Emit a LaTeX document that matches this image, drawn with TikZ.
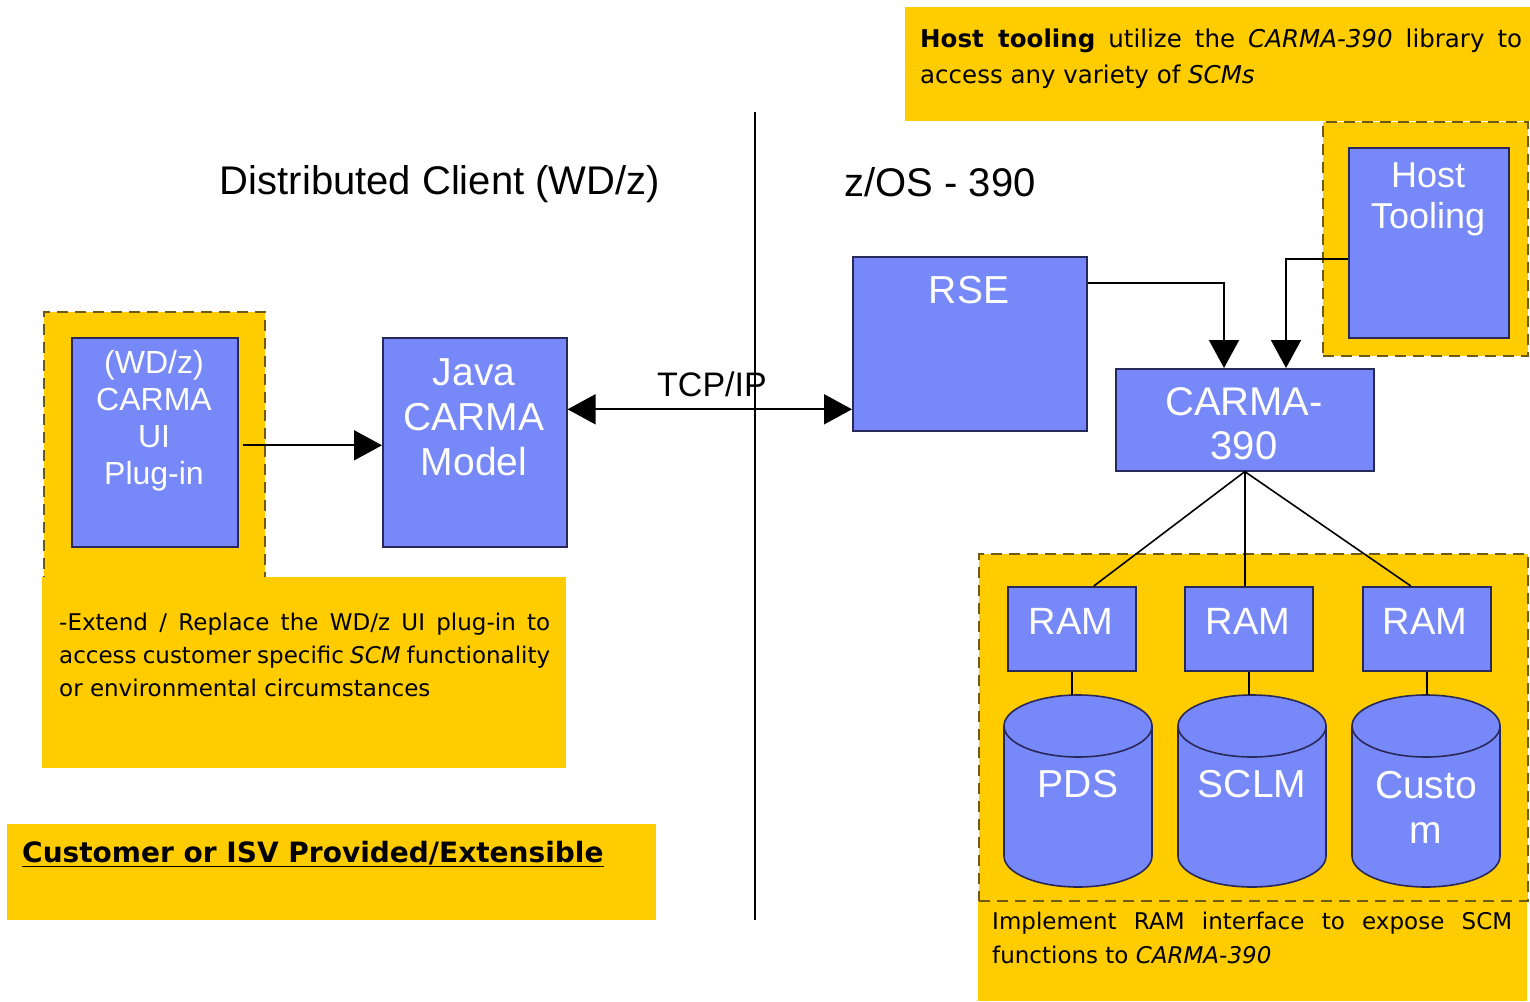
\documentclass[tikz,border=0pt]{standalone}
\usepackage{fontspec}
\setmainfont{Liberation Sans}
\newfontfamily\comicf{DejaVu Sans}
\usetikzlibrary{arrows.meta,calc}
\definecolor{boxblue}{RGB}{119,136,248}
\definecolor{boxedge}{RGB}{40,40,90}
\definecolor{noteyellow}{RGB}{255,204,0}
\definecolor{dashcol}{RGB}{110,90,20}
\newcommand\drawcyl[4]{%
  \filldraw[cylbody] (#2,#4) ellipse [x radius=74, y radius=31];
  \fill[boxblue] (#2-74,#3) rectangle (#2+74,#4);
  \draw[cylline] (#2-74,#3) -- (#2-74,#4) (#2+74,#3) -- (#2+74,#4);
  \filldraw[cylbody] (#2,#3) ellipse [x radius=74, y radius=31];
  \coordinate (#1) at (#2,#3-31);
}
\begin{document}
\begin{tikzpicture}[x=1pt,y=-1pt,
  bluebox/.style={draw=boxedge, fill=boxblue, line width=1.6pt, anchor=north west, inner sep=0pt},
  dashzone/.style={draw=dashcol, fill=noteyellow, line width=2.2pt, dash pattern=on 11pt off 7pt, anchor=north west, inner sep=0pt},
  notezone/.style={fill=noteyellow, anchor=north west, inner sep=0pt},
  wtext/.style={text=white, align=center, inner sep=0pt},
  cylbody/.style={draw=boxedge, fill=boxblue, line width=1.6pt},
  cylline/.style={draw=boxedge, line width=1.6pt},
  link/.style={line width=1.6pt},
  arr/.style={line width=1.8pt, -{Triangle[length=28pt,width=30pt]}},
  biarr/.style={line width=1.8pt, {Triangle[length=28pt,width=30pt]}-{Triangle[length=28pt,width=30pt]}},
  notetext/.style={anchor=north west, inner sep=0pt, align=justify},
  header/.style={inner sep=0pt, font=\fontsize{40}{46}\selectfont}
]
\useasboundingbox (0,0) rectangle (1530,1001);
\fill[white] (0,0) rectangle (1530,1001);

% yellow zones
\node[notezone, minimum width=625pt, minimum height=114pt] (topnote) at (905,7) {};
\node[dashzone, minimum width=205pt, minimum height=234pt] (hostzone) at (1322,121) {};
\node[dashzone, minimum width=221pt, minimum height=266pt] (pluginzone) at (43,311) {};
\node[notezone, minimum width=524pt, minimum height=191pt] (leftnote) at (42,577) {};
\node[notezone, minimum width=649pt, minimum height=96pt] (isvnote) at (7,824) {};
\node[notezone, minimum width=549pt, minimum height=101pt] (ramnote) at (978,900) {};
\node[dashzone, minimum width=549pt, minimum height=347pt] (ramzone) at (978,553) {};

% divider
\coordinate (vtop) at (755,112);
\coordinate (vbot) at (755,920);
\draw[line width=1.6pt] (vtop) -- (vbot);

% headers
\node[header] (hdrleft) at (440,184) {Distributed Client (WD/z)};
\node[header] (hdrright) at (940,182) {z/OS - 390};

% blue boxes
\node[bluebox, minimum width=166pt, minimum height=209pt] (plugin) at (71,337) {};
\node[bluebox, minimum width=184pt, minimum height=209pt] (java) at (382,337) {};
\node[bluebox, minimum width=234pt, minimum height=174pt] (rse) at (852,256) {};
\node[bluebox, minimum width=258pt, minimum height=102pt] (carma) at (1115,368) {};
\node[bluebox, minimum width=160pt, minimum height=190pt] (host) at (1348,147) {};
\node[bluebox, minimum width=128pt, minimum height=84pt] (ram1) at (1007,586) {};
\node[bluebox, minimum width=128pt, minimum height=84pt] (ram2) at (1184,586) {};
\node[bluebox, minimum width=128pt, minimum height=84pt] (ram3) at (1362,586) {};

\drawcyl{pds}{1078}{726}{856}
\drawcyl{sclm}{1252}{726}{856}
\drawcyl{cust}{1426}{726}{856}

% box texts
\node[wtext, font=\fontsize{32}{37}\selectfont] (plugintext) at (154,421) {(WD/z)\\CARMA\\UI\\Plug-in};
\node[wtext, font=\fontsize{39}{45}\selectfont] (javatext) at (474,417) {Java\\CARMA\\Model};
\node[wtext, font=\fontsize{39}{45}\selectfont] (rsetext) at (969,290) {RSE};
\node[wtext, font=\fontsize{40}{44}\selectfont] (carmatext) at (1244,424) {CARMA-\\390};
\node[wtext, font=\fontsize{36}{41}\selectfont] (hosttext) at (1428,199) {Host\\Tooling};
\node[wtext, font=\fontsize{38}{44}\selectfont] (ram1text) at (1071,621) {RAM};
\node[wtext, font=\fontsize{38}{44}\selectfont] (ram2text) at (1248,621) {RAM};
\node[wtext, font=\fontsize{38}{44}\selectfont] (ram3text) at (1425,621) {RAM};
\node[wtext, font=\fontsize{39}{45}\selectfont] (pdstext) at (1078,784) {PDS};
\node[wtext, font=\fontsize{39}{45}\selectfont] (sclmtext) at (1252,784) {SCLM};
\node[wtext, font=\fontsize{39}{45}\selectfont] (custtext) at (1426,807) {Custo\\m};

% connectors
\draw[arr] ($(plugin.east)+(4,3)$) -- ($(java.west)+(0,3)$);
\draw[biarr] ($(java.east)+(0,-33)$) coordinate (tcpl) -- (tcpl -| rse.west);
\node[inner sep=0pt, font=\fontsize{34}{40}\selectfont] (tcplabel) at (712,384) {TCP/IP};
\draw[arr] ($(rse.east)+(0,-61)$) -| ($(carma.north west)+(109,0)$);
\draw[arr] ($(host.west)+(0,16)$) -| ($(carma.north west)+(171,0)$);
\draw[link] (carma.south) -- ($(ram1.north)+(22,0)$);
\draw[link] (carma.south) -- (carma.south |- ram2.north);
\draw[link] (carma.south) -- ($(ram3.north)+(-16,0)$);
\draw[link] (ram1.south) -- (ram1.south |- pds);
\draw[link] (ram2.south) -- (ram2.south |- sclm);
\draw[link] (ram3.south) -- (ram3.south |- cust);

% note texts
\node[notetext, text width=602pt, font=\comicf\fontsize{24.5}{36}\selectfont] (toptext) at (920,29)
  {\textbf{Host tooling} utilize the \textit{CARMA-390} library to\linebreak access any variety of \textit{SCMs}};
\node[notetext, text width=491pt, font=\comicf\fontsize{23}{33}\selectfont] (lefttext) at (59,613)
  {-Extend / Replace the WD/z UI plug-in to\linebreak access customer specific \textit{SCM} functionality\linebreak or environmental circumstances};
\node[notetext, text width=520pt, font=\comicf\fontsize{23}{34}\selectfont] (ramtext) at (992,912)
  {Implement RAM interface to expose SCM\linebreak functions to \textit{CARMA-390}};
\node[notetext, font=\comicf\bfseries\fontsize{28}{32}\selectfont] (isvtext) at (22,841)
  {\underline{Customer or ISV Provided/Extensible}};
\end{tikzpicture}
\end{document}
